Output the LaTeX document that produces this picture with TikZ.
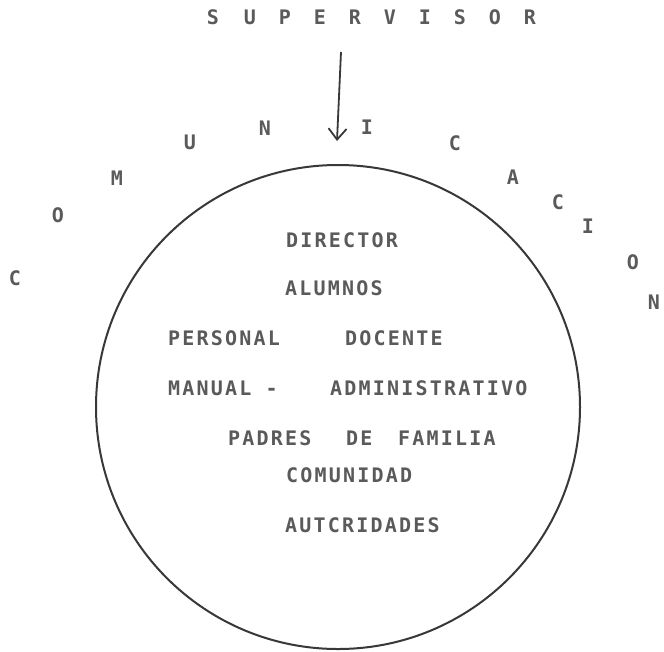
\documentclass[tikz,border=0pt]{standalone}
\usepackage{fontspec}
\newfontfamily\tw[LetterSpace=11]{DejaVu Sans Mono Bold}
\usetikzlibrary{arrows.meta}
\definecolor{ink}{HTML}{5A5A5A}
\definecolor{rim}{HTML}{383838}
\begin{document}
\begin{tikzpicture}[x=1pt,y=-1pt,
  lt/.style={font=\tw\fontsize{20}{20}\selectfont, text=ink, inner sep=0pt},
  wl/.style={lt, anchor=west}]
\clip (0,0) rectangle (664,651);
\fill[white] (0,0) rectangle (664,651);
% SUPERVISOR
\node[lt] (s1) at (213,17) {S};
\node[lt] (s2) at (250,17) {U};
\node[lt] (s3) at (285,17) {P};
\node[lt] (s4) at (320,17) {E};
\node[lt] (s5) at (355,17) {R};
\node[lt] (s6) at (390,17) {V};
\node[lt] (s7) at (425,17) {I};
\node[lt] (s8) at (460,17) {S};
\node[lt] (s9) at (495,17) {O};
\node[lt] (s10) at (530,17) {R};
% arrow
\coordinate (a0) at (341,52);
\coordinate (a1) at (337,141);
\draw[rim, line width=1.8pt, -{Straight Barb[length=11pt,width=18pt,line width=1.8pt]}] (a0) -- (a1);
% COMUNICACION
\node[lt] (c1) at (15,278) {C};
\node[lt] (c2) at (58,215) {O};
\node[lt] (c3) at (117,178) {M};
\node[lt] (c4) at (190,142) {U};
\node[lt] (c5) at (265,128) {N};
\node[lt] (c6) at (367,127) {I};
\node[lt] (c7) at (455,143) {C};
\node[lt] (c8) at (513,177) {A};
\node[lt] (c9) at (558,202) {C};
\node[lt] (c10) at (588,226) {I};
\node[lt] (c11) at (633,262) {O};
\node[lt] (c12) at (654,302) {N};
% circle
\node[circle, draw=rim, line width=2pt, minimum size=484pt, inner sep=0pt] (ring) at (338,407) {};
% inner texts
\node[wl] (t1) at (286,240) {DIRECTOR};
\node[wl] (t2) at (285,288) {ALUMNOS};
\node[wl] (t3) at (168,338) {PERSONAL};
\node[wl] (t4) at (345,338) {DOCENTE};
\node[wl] (t5) at (168,388) {MANUAL -};
\node[wl] (t6) at (330,388) {ADMINISTRATIVO};
\node[wl] (t7) at (228,438) {PADRES};
\node[wl] (t8) at (346,438) {DE};
\node[wl] (t9) at (398,438) {FAMILIA};
\node[wl] (t10) at (286,475) {COMUNIDAD};
\node[wl] (t11) at (285,525) {AUTCRIDADES};
\end{tikzpicture}
\end{document}
